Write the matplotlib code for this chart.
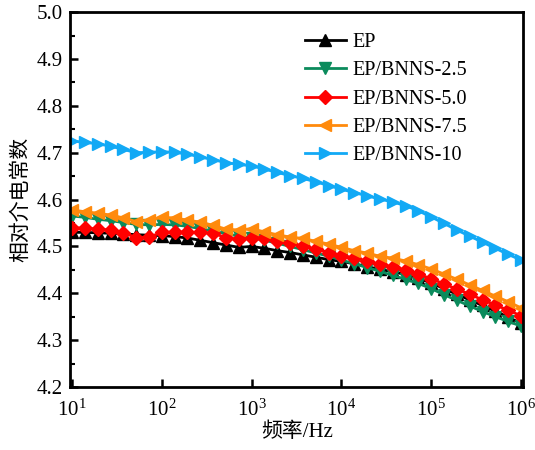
import matplotlib
matplotlib.use("Agg")
import matplotlib.pyplot as plt
from matplotlib.ticker import MultipleLocator, FormatStrFormatter, LogLocator, NullLocator

plt.rcParams['font.family'] = ['Liberation Serif', 'Noto Sans CJK SC']
plt.rcParams['mathtext.fontset'] = 'stix'
plt.rcParams['font.size'] = 15

# measurement frequencies (Hz), 7 points per decade
freq = [10, 13.9, 19.3, 26.8, 37.3, 51.8, 72.0,
        100, 139, 193, 268, 373, 518, 720,
        1000, 1390, 1930, 2680, 3730, 5180, 7200,
        1.0e4, 1.39e4, 1.93e4, 2.68e4, 3.73e4, 5.18e4, 7.20e4,
        1.0e5, 1.39e5, 1.93e5, 2.68e5, 3.73e5, 5.18e5, 7.20e5,
        1.0e6]

ep = [4.530, 4.530, 4.529, 4.528, 4.527, 4.525, 4.524, 4.523, 4.521, 4.518,
      4.513, 4.508, 4.503, 4.498, 4.500, 4.496, 4.491, 4.487, 4.482, 4.477,
      4.472, 4.468, 4.463, 4.457, 4.451, 4.446, 4.440, 4.432, 4.422, 4.410,
      4.398, 4.386, 4.374, 4.362, 4.349, 4.336]
bn25 = [4.565, 4.562, 4.558, 4.555, 4.551, 4.547, 4.546, 4.547, 4.546, 4.543,
        4.538, 4.533, 4.527, 4.522, 4.519, 4.513, 4.507, 4.500, 4.493, 4.486,
        4.479, 4.471, 4.463, 4.455, 4.447, 4.438, 4.430, 4.421, 4.410, 4.397,
        4.385, 4.373, 4.361, 4.350, 4.340, 4.330]
bn50 = [4.540, 4.539, 4.537, 4.535, 4.529, 4.519, 4.520, 4.530, 4.531, 4.530,
        4.530, 4.528, 4.519, 4.515, 4.519, 4.518, 4.511, 4.507, 4.501, 4.494,
        4.487, 4.480, 4.476, 4.469, 4.462, 4.457, 4.450, 4.441, 4.431, 4.420,
        4.409, 4.398, 4.386, 4.375, 4.364, 4.352]
bn75 = [4.578, 4.574, 4.571, 4.567, 4.561, 4.553, 4.556, 4.562, 4.561, 4.556,
        4.552, 4.545, 4.537, 4.535, 4.538, 4.531, 4.525, 4.520, 4.517, 4.511,
        4.505, 4.498, 4.491, 4.486, 4.479, 4.475, 4.469, 4.461, 4.452, 4.441,
        4.430, 4.418, 4.406, 4.394, 4.382, 4.369]
bn10 = [4.725, 4.722, 4.719, 4.714, 4.707, 4.700, 4.701, 4.702, 4.701, 4.697,
        4.691, 4.685, 4.679, 4.675, 4.672, 4.665, 4.658, 4.651, 4.645, 4.638,
        4.630, 4.622, 4.615, 4.608, 4.601, 4.595, 4.587, 4.576, 4.563, 4.549,
        4.535, 4.522, 4.509, 4.496, 4.483, 4.471]

labels = ['EP', 'EP/BNNS-2.5', 'EP/BNNS-5.0', 'EP/BNNS-7.5', 'EP/BNNS-10']

fig = plt.figure(figsize=(5.35, 4.5), dpi=100)
ax = fig.add_axes([0.131, 0.140, 0.847, 0.833])

series = [ep, bn25, bn50, bn75, bn10]
colors = ['#000000', '#0b8b5c', '#ff0000', '#ff8a0c', '#12a9f5']
markers = ['^', 'v', 'D', '<', '>']
sizes = [9, 9, 7, 9, 9]
for s, c, m, ms, lab in zip(series, colors, markers, sizes, labels):
    ax.plot(freq, s, color=c, marker=m, markersize=ms, linewidth=2, label=lab)

ax.set_xscale('log')
ax.set_xlim(9.5, 1.06e6)
ax.set_ylim(4.2, 5.0)
ax.xaxis.set_major_locator(LogLocator(base=10, numticks=10))
ax.xaxis.set_minor_locator(NullLocator())
ax.yaxis.set_major_locator(MultipleLocator(0.1))
ax.yaxis.set_minor_locator(MultipleLocator(0.05))
ax.yaxis.set_major_formatter(FormatStrFormatter('%.1f'))

for sp in ax.spines.values():
    sp.set_linewidth(2)
ax.tick_params(which='major', direction='in', length=6, width=1.8, labelsize=15, pad=5)
ax.tick_params(axis='x', which='major', pad=9)
ax.tick_params(which='minor', direction='in', length=3.5, width=1.5)

ax.set_xlabel('频率/Hz', fontsize=15, labelpad=1)
ax.set_ylabel('相对介电常数', fontsize=15, labelpad=4)

ax.legend(loc='upper left', bbox_to_anchor=(0.519, 0.944), frameon=False,
          borderpad=0, borderaxespad=0, fontsize=14.5, handlelength=2.0,
          labelspacing=0.45, handletextpad=0.35)

fig.savefig('out.png', dpi=100)
